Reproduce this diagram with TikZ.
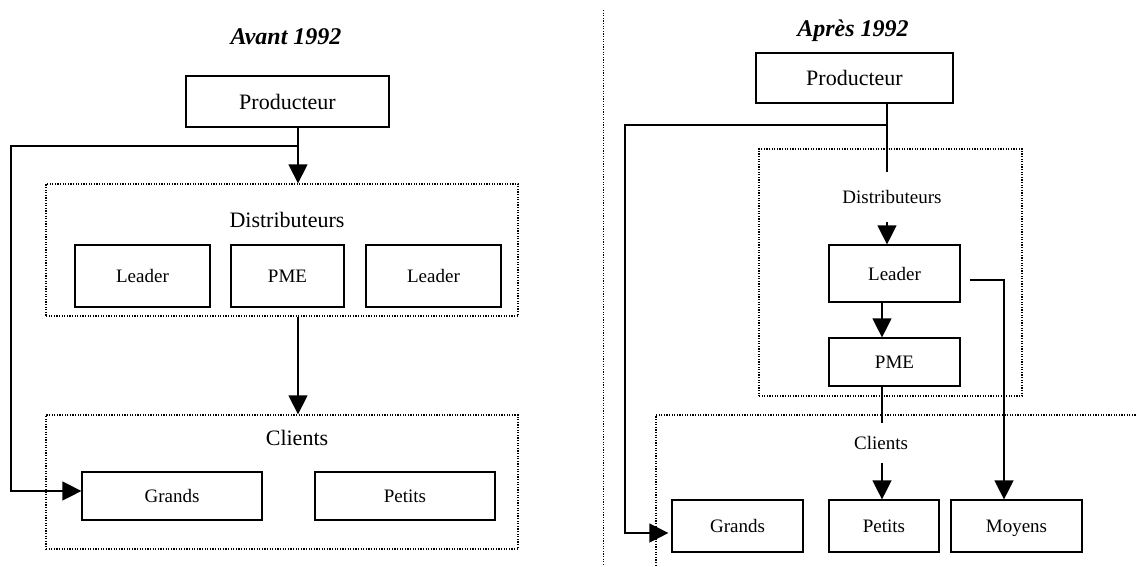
\documentclass[tikz,border=0pt]{standalone}
\usepackage{fontspec}
\setmainfont{Liberation Serif}
\usetikzlibrary{arrows.meta}
\begin{document}
\begin{tikzpicture}[x=1pt, y=-1pt,
  box/.style={draw, line width=1.2pt, inner sep=0pt, text depth=0pt, font=\fontsize{19}{22}\selectfont},
  big/.style={font=\fontsize{22}{26}\selectfont},
  label/.style={inner sep=0pt, text depth=0pt, font=\fontsize{19}{22}\selectfont},
  group/.style={draw, line width=1.3pt, dash pattern=on 1.2pt off 1.4pt, inner sep=0pt},
  wire/.style={line width=1.3pt},
  arr/.style={line width=1.3pt, -{Triangle[width=19pt,length=19pt]}},
  heading/.style={inner sep=0pt, font=\fontsize{24}{28}\selectfont\bfseries\itshape}]
\useasboundingbox (0,0) rectangle (1136,566);
\clip (0,0) rectangle (1136,566);
\draw[group, line width=1pt] (603,10) -- (603,566);
\node[heading] (titleA) at (286,37) {Avant 1992};
\node[box, big, minimum width=203pt, minimum height=51pt] (prodA) at (287.5,101.5) {Producteur};
\node[group, minimum width=472pt, minimum height=132pt] (distA) at (282,250) {};
\node[label, big] (lblDistA) at (287,220) {Distributeurs};
\node[box, minimum width=135pt, minimum height=62pt] (leadA1) at (142.5,276) {Leader};
\node[box, minimum width=113pt, minimum height=62pt] (pmeA) at (287.5,276) {PME};
\node[box, minimum width=135pt, minimum height=62pt] (leadA2) at (433.5,276) {Leader};
\node[group, minimum width=472pt, minimum height=134pt] (cliA) at (282,482) {};
\node[label, big] (lblCliA) at (297,438) {Clients};
\node[box, minimum width=180pt, minimum height=48pt] (grandA) at (172,496) {Grands};
\node[box, minimum width=180pt, minimum height=48pt] (petitA) at (405,496) {Petits};
\coordinate (jA) at (298,146);
\coordinate (cA) at (11,146);
\draw[arr] (prodA.south -| jA) -- (jA |- distA.north);
\draw[arr] (jA) -- (cA) |- ([yshift=5pt]grandA.west);
\draw[arr] (distA.south -| jA) -- (cliA.north -| jA);
\node[heading] (titleB) at (853,31) {Après 1992};
\node[box, big, minimum width=197pt, minimum height=50pt] (prodB) at (854.5,78) {Producteur};
\node[group, minimum width=263pt, minimum height=247pt] (distB) at (890.5,272.5) {};
\node[group, minimum width=494pt, minimum height=165pt] (cliB) at (903,497.5) {};
\node[box, minimum width=131pt, minimum height=57pt] (leadB) at (894.5,273.5) {Leader};
\node[box, minimum width=131pt, minimum height=48pt] (pmeB) at (894.5,362) {PME};
\node[box, minimum width=131pt, minimum height=52pt] (grandB) at (737.5,526) {Grands};
\node[box, minimum width=110pt, minimum height=52pt] (petitB) at (884,526) {Petits};
\node[box, minimum width=131pt, minimum height=52pt] (moyB) at (1016.5,526) {Moyens};
\coordinate (jB) at (887,125);
\coordinate (cB) at (625,125);
\coordinate (kB) at (1004,280);
\draw[wire] (prodB.south -| jB) -- (jB);
\draw[arr] (jB) -- (jB |- leadB.north);
\draw[arr, shorten >=3pt] (jB) -- (cB) |- ([yshift=-7pt]grandB.west);
\draw[arr] ([xshift=-12.5pt]leadB.south) -- ([xshift=-12.5pt]pmeB.north);
\draw[arr] ([xshift=-12.5pt]pmeB.south) -- ([xshift=-12.5pt]pmeB.south |- petitB.north);
\draw[arr] ([xshift=9pt]leadB.east |- kB) -- (kB) -- (kB |- moyB.north);
\node[label, fill=white, minimum width=110pt, minimum height=50pt] (lblDistB) at (892,197) {Distributeurs};
\node[label, fill=white, minimum width=64pt, minimum height=40pt] (lblCliB) at (881,443) {Clients};
\end{tikzpicture}
\end{document}
